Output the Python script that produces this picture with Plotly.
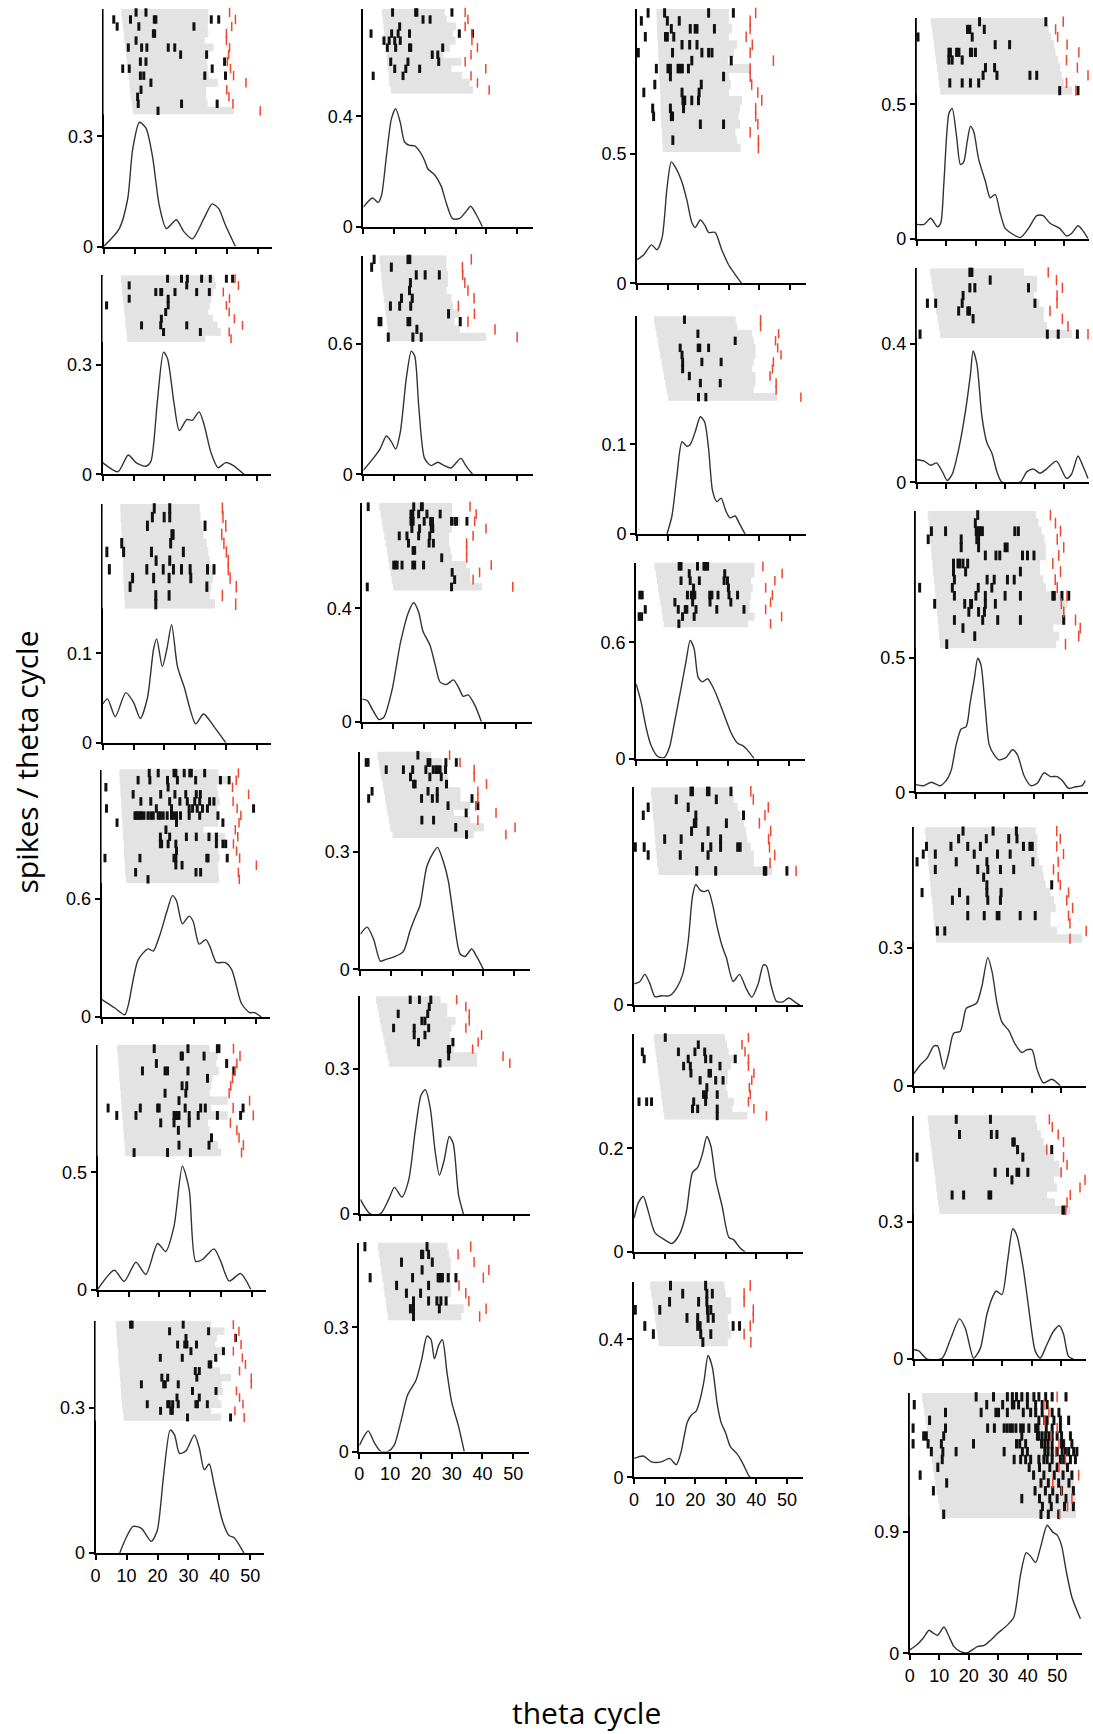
import plotly.graph_objects as go

W, H = 1093, 1734

# ---------------- column 1 ----------------
A1_cx = [0, 5.1, 7.8, 9.4, 11.6, 13.7, 15.8, 18.0, 20.3, 23.5, 26.0, 28.7, 32.4, 35.1, 37.2, 39.4, 42.6]
A1_cy = [0, 0.049, 0.13, 0.264, 0.338, 0.322, 0.246, 0.112, 0.049, 0.073, 0.04, 0.021, 0.076, 0.116, 0.103, 0.058, 0]
A1_start = [5.9, 6.2, 6.4, 6.7, 6.9, 7.2, 7.4, 7.7, 8.0, 8.2, 8.5, 8.7, 9.0, 9.3, 9.6]
A1_end = [33.7, 33.7, 33.5, 33.7, 32.5, 35.4, 33.0, 33.2, 33.5, 33.8, 36.7, 33.0, 33.0, 33.5, 42.0]
A1_red = [40.7, 42.6, 41.4, 39.7, 39.7, 40.7, 40.4, 40.0, 41.0, 42.0, 46.0, 39.8, 40.5, 41.8, 50.6]
A1_spikes = [[10.5, 13.7], [3.3, 8.7, 16.4, 16.9, 34.8, 37.2], [4.4, 11.4, 29.2], [16.1, 16.5], [10.5],
             [8.0, 12.3, 14.0, 20.9, 23.0], [24.9, 33.3], [11.9, 13.7, 39.1], [6.2, 8.3, 35.1],
             [11.9, 13.0, 32.7, 39.4], [15.3], [12.1], [11.0], [11.2, 25.2, 36.7], [17.6]]

A2_cx = [0, 5, 8.3, 10.8, 14, 15.6, 17.7, 19.7, 21, 23, 24.8, 27.2, 29, 31.2, 32.8, 35, 37.3, 39.8, 42, 45.7]
A2_cy = [0.032, 0.007, 0.053, 0.032, 0.022, 0.035, 0.2, 0.335, 0.317, 0.2, 0.12, 0.15, 0.148, 0.171, 0.136, 0.06, 0.018, 0.032, 0.025, 0]
A2_start = [6.1, 6.3, 6.5, 6.8, 7.0, 7.2, 7.4, 7.6, 7.9, 8.1]
A2_end = [36.0, 36.5, 35.6, 35.0, 34.5, 34.0, 35.5, 37.0, 38.0, 33.0]
A2_red = [42.8, 43.9, 39.0, 41.0, 40.0, 40.9, 42.6, 45.2, 40.9, 41.5]
A2_spikes = [[21.0, 25.5, 27.4, 32.0, 34.8, 40.0, 42.0], [8.6, 27.2], [17.2, 18.8, 19.1, 23.4, 30.4, 34.5],
             [8.6, 21.2], [1.3, 21.2], [20.4], [19.0], [12.6, 18.8, 27.2], [19.7, 31.6], []]

A3_cx = [0, 1.6, 4.1, 7.5, 10, 12.2, 14.5, 16.5, 17.5, 19.3, 20.8, 22.3, 24.2, 26.3, 30.1, 32.6, 36, 39.8]
A3_cy = [0.043, 0.049, 0.029, 0.056, 0.045, 0.027, 0.05, 0.105, 0.116, 0.085, 0.105, 0.132, 0.085, 0.063, 0.021, 0.032, 0.018, 0]
A3_start = [5.9, 6.0, 6.2, 6.3, 6.4, 6.5, 6.7, 6.8, 6.9, 7.0, 7.2, 7.3]
A3_end = [31.2, 31.5, 32.0, 32.5, 33.5, 34.0, 34.5, 35.0, 35.5, 35.0, 34.5, 36.2]
A3_red = [38.7, 38.9, 39.8, 38.5, 39.2, 40.0, 40.6, 40.6, 41.2, 43.2, 38.7, 43.0]
A3_spikes = [[16.7, 21.7], [16.1, 19.9, 21.7], [14.5, 33.1], [22.4, 22.8], [6.2, 22.0], [1.4, 6.8, 15.8, 26.1],
             [17.3, 21.7], [2.2, 14.3, 19.6, 22.9, 25.5, 28.3, 33.9, 36.0], [9.7, 16.5, 21.5, 28.5],
             [8.9, 33.7], [17.2, 21.5], [17.2]]

A4_cx = [0, 4.3, 7.5, 8.6, 11.8, 15, 16.7, 18.8, 21, 22.9, 24.2, 26.1, 28.3, 29.6, 31.5, 33.7, 35, 37.1, 39.8, 42, 45.2, 47.8, 49.5, 51.6]
A4_cy = [0.09, 0.046, 0.012, 0.058, 0.29, 0.346, 0.335, 0.415, 0.53, 0.616, 0.59, 0.473, 0.512, 0.485, 0.37, 0.393, 0.358, 0.277, 0.277, 0.242, 0.069, 0.023, 0.023, 0]
A4_start = [5.9, 6.0, 6.2, 6.3, 6.5, 6.6, 6.7, 6.9, 7.0, 7.1, 7.3, 7.4, 7.5, 7.7, 7.8, 8.0]
A4_end = [37.6, 40.3, 37.2, 37.6, 38.0, 37.2, 37.0, 37.6, 32.8, 39.8, 38.0, 37.6, 38.0, 37.5, 37.6, 37.8]
A4_red = [44.2, 43.5, 42.3, 47.5, 42.5, 43.8, 45.0, 44.4, 43.2, 44.0, 42.6, 43.6, 44.6, 50.0, 44.2, 44.5]
A4_spikes = [[15.4, 18.3, 23.4, 24.0, 26.7, 28.5, 29.0, 33.3], [11.8, 15.6, 21.3, 24.5, 30.4, 38.4, 41.2],
             [1.4, 21.5], [10.2, 19.1, 23.7, 27.2, 30.6, 31.9], [12.7, 15.9, 22.0, 25.3, 27.7, 30.1, 31.7, 34.9, 36.3],
             [1.6, 17.7, 22.6, 28.3, 29.4, 30.9, 32.6, 34.2, 49.1],
             [10.8, 11.3, 11.8, 12.4, 12.9, 13.7, 15.0, 15.9, 16.7, 18.3, 19.0, 19.9, 21.2, 22.6, 23.3, 24.2, 25.5, 28.3, 31.7, 37.6],
             [5.0, 24.2, 39.2], [20.8], [19.0, 22.0, 27.4, 30.6, 34.7, 37.1], [19.0, 19.4, 21.5, 24.0, 37.1, 39.2, 40.1],
             [24.2], [1.1, 12.4, 23.4, 24.0, 34.0, 34.4, 40.6], [24.0, 26.0], [11.0, 30.5, 32.0], [15.0]]

A5_cx = [0, 5.4, 8.6, 12.4, 15.6, 19.4, 22, 24.7, 27.4, 29.6, 31.7, 33.9, 37.6, 39.8, 42.5, 46.2, 49.5]
A5_cy = [0, 0.082, 0.035, 0.116, 0.064, 0.196, 0.162, 0.27, 0.526, 0.426, 0.12, 0.128, 0.173, 0.12, 0.036, 0.068, 0]
A5_start = [6.5, 6.7, 6.9, 7.0, 7.2, 7.4, 7.6, 7.8, 7.9, 8.1, 8.3, 8.5, 8.7, 8.9, 9.1]
A5_end = [36.0, 38.7, 38.2, 39.0, 37.0, 36.5, 36.0, 41.9, 36.5, 41.9, 35.5, 36.0, 36.5, 38.7, 39.8]
A5_red = [43.9, 46.0, 45.0, 44.4, 43.6, 43.0, 42.5, 49.1, 43.8, 50.3, 42.9, 45.0, 45.7, 47.1, 46.5]
A5_spikes = [[18.3, 29.2, 38.7, 39.2], [27.0, 27.4, 34.4], [19.0, 41.7], [14.5, 21.8, 22.6, 29.2, 44.0], [35.5],
             [27.3, 28.8], [21.8, 28.5], [26.3], [3.4, 13.8, 19.4, 19.9, 28.3, 33.3, 34.8, 47.0],
             [6.2, 12.4, 24.7, 25.3, 25.8, 26.3, 29.6, 32.5, 38.7, 46.2], [20.4, 24.7, 29.6], [26.1], [36.8],
             [26.3, 36.0], [11.8, 22.6, 30.0]]

A6_cx = [7.8, 9.9, 12.1, 14.8, 18, 19.9, 22, 24.1, 25.5, 27.1, 29.2, 31.9, 33.5, 35.1, 36.7, 38.3, 41, 43.1, 44.7, 47.9]
A6_cy = [0, 0.032, 0.055, 0.051, 0.024, 0.046, 0.162, 0.254, 0.244, 0.206, 0.211, 0.244, 0.217, 0.172, 0.184, 0.141, 0.066, 0.036, 0.032, 0]
A6_start = [6.7, 6.9, 7.0, 7.2, 7.4, 7.5, 7.7, 7.9, 8.0, 8.2, 8.4, 8.5, 8.7, 8.9, 9.2]
A6_end = [37.2, 41.5, 39.0, 38.5, 41.5, 39.5, 36.8, 40.0, 43.6, 40.5, 41.0, 39.5, 40.5, 37.2, 40.4]
A6_red = [44.5, 46.3, 45.0, 47.0, 44.5, 47.4, 48.4, 46.5, 50.3, 50.3, 45.5, 46.5, 47.6, 45.0, 48.0]
A6_spikes = [[11.3, 11.8, 28.3], [23.9, 36.5], [29.2, 45.2], [26.5, 28.8, 29.5, 32.6], [30.8, 41.3],
             [20.9, 28.0, 38.8], [36.7, 37.2], [32.2, 33.5], [21.4, 23.3, 32.7], [14.8, 22.0, 22.5, 26.7],
             [31.3, 38.9], [26.3, 33.5], [16.7, 23.3, 23.8, 24.9, 26.7, 32.4, 32.9, 36.1], [21.0, 24.3, 24.8],
             [29.7, 43.6]]

# ---------------- column 2 ----------------
B1_cx = [0, 3, 4.8, 5.9, 7.5, 9.1, 10.5, 12, 13.4, 15, 16.7, 18.3, 19.9, 21, 23.1, 25.3, 26.9, 29, 31.2, 33.3, 34.9, 36.6, 38.7]
B1_cy = [0.071, 0.104, 0.088, 0.113, 0.256, 0.39, 0.428, 0.378, 0.307, 0.295, 0.293, 0.273, 0.24, 0.209, 0.189, 0.147, 0.088, 0.029, 0.029, 0.054, 0.074, 0.046, 0]
B1_start = [6.2, 6.4, 6.7, 6.9, 7.2, 7.4, 7.7, 7.9, 8.1, 8.4, 8.6, 9.1]
B1_end = [26.3, 27.0, 30.0, 29.0, 29.8, 28.0, 25.8, 31.7, 28.5, 32.0, 34.4, 35.5]
B1_red = [33.1, 34.0, 33.1, 35.3, 35.3, 37.1, 35.0, 33.1, 39.8, 35.0, 37.1, 40.9]
B1_spikes = [[9.5, 17.0, 17.4, 28.8], [19.4, 21.7], [11.8], [2.5, 9.2, 11.3, 15.0, 31.2, 35.5], [6.7, 8.4, 10.2, 12.0],
             [7.8, 10.5, 15.0, 15.4, 25.8], [22.4, 24.2], [8.9, 14.5, 24.5], [10.2, 13.8, 18.3], [3.2, 12.9], [], []]

B2_cx = [0, 3.2, 5.4, 7.5, 9.1, 10.5, 12, 14, 15.6, 16.7, 18, 19.9, 22, 24.2, 26.3, 28.5, 31.7, 33.3, 35.5]
B2_cy = [0.018, 0.073, 0.116, 0.176, 0.15, 0.116, 0.193, 0.446, 0.567, 0.545, 0.314, 0.073, 0.04, 0.055, 0.04, 0.029, 0.073, 0.04, 0]
B2_start = [5.4, 5.7, 6.0, 6.2, 6.5, 6.8, 7.1, 7.4, 7.7, 8.0, 8.4]
B2_end = [26.9, 26.9, 27.4, 27.4, 26.9, 28.5, 29.0, 31.2, 29.5, 31.2, 39.8]
B2_red = [35.1, 32.2, 32.3, 33.0, 34.0, 36.0, 30.9, 36.1, 34.0, 42.8, 50.0]
B2_spikes = [[3.5, 14.5, 15.1], [2.7, 9.1], [17.2, 20.1, 24.7], [15.3], [15.0], [12.4, 15.9], [8.8, 11.8, 15.4],
             [27.7], [5.1, 5.7, 14.5, 15.1, 31.5], [17.4], [8.1, 16.1, 18.8]]

B3_cx = [0, 1.6, 3.2, 5.4, 7, 9.7, 12.4, 15, 16.7, 18.3, 19.7, 22, 23.7, 25.3, 27.4, 29.6, 31.2, 32.8, 34.4, 36.6, 38.7]
B3_cy = [0.08, 0.075, 0.045, 0.008, 0.016, 0.115, 0.28, 0.387, 0.42, 0.387, 0.32, 0.27, 0.2, 0.14, 0.132, 0.148, 0.123, 0.09, 0.095, 0.058, 0]
B3_start = [5.7, 6.1, 6.5, 6.9, 7.3, 7.7, 8.1, 8.5, 8.9, 9.3, 9.7, 10.2]
B3_end = [29.0, 29.0, 31.7, 29.0, 28.0, 28.0, 28.5, 29.0, 33.5, 34.9, 34.9, 38.7]
B3_red = [35.0, 37.0, 36.5, 40.2, 36.0, 33.9, 33.9, 33.9, 41.9, 38.1, 36.0, 48.9]
B3_spikes = [[1.9, 16.7, 19.2, 19.5], [15.8, 16.4, 18.3, 21.0, 25.3], [15.8, 16.5, 20.1, 22.2, 22.8, 29.0, 30.1, 30.6, 34.0],
             [16.1, 18.6, 22.4, 22.9], [12.0, 14.5, 18.3, 21.9], [15.0, 21.7, 23.1], [16.5, 17.0], [25.8],
             [10.2, 10.8, 11.3, 12.9, 16.4, 17.0, 19.9], [29.2], [30.0], [1.6, 29.0]]

B4_cx = [0, 2.2, 4.3, 6.5, 8.1, 11.3, 14, 16.2, 17.8, 19.4, 21.6, 23.8, 25.1, 27, 28.6, 30.2, 32.4, 34, 36.2, 37.8, 40]
B4_cy = [0.09, 0.108, 0.077, 0.021, 0.025, 0.033, 0.046, 0.1, 0.133, 0.164, 0.263, 0.3, 0.312, 0.275, 0.226, 0.139, 0.04, 0.033, 0.052, 0.033, 0]
B4_start = [5.7, 6.1, 6.5, 6.9, 7.4, 7.8, 8.2, 8.6, 9.0, 9.4, 9.8, 10.6]
B4_end = [22.9, 26.5, 27.5, 28.4, 28.4, 32.4, 32.4, 35.6, 30.2, 35.6, 40.0, 36.7]
B4_red = [29.0, 32.4, 37.0, 37.0, 41.0, 38.2, 38.2, 37.5, 44.1, 38.2, 50.3, 47.3]
B4_spikes = [[18.7], [1.9, 2.5, 22.0, 22.6, 27.8, 31.2], [8.4, 14.0, 17.0, 21.3, 23.7, 24.6, 25.2, 25.9, 27.7],
             [16.3, 22.6, 26.3], [17.3, 17.8, 28.0], [3.8, 22.0, 25.0], [2.7, 19.9, 23.4, 25.0, 36.3],
             [28.5, 38.2], [34.4], [20.0, 23.8], [31.0], [34.5]]

B5_cx = [0, 3.2, 6.5, 9.2, 11.1, 13.5, 15.7, 17.8, 19.7, 21.1, 22.7, 24.3, 25.7, 27.2, 28.9, 30.2, 31.9, 33.5]
B5_cy = [0.03, 0, 0, 0.03, 0.055, 0.035, 0.07, 0.17, 0.245, 0.257, 0.22, 0.13, 0.08, 0.11, 0.16, 0.145, 0.04, 0]
B5_start = [5.2, 5.7, 6.1, 6.6, 7.0, 7.5, 8.0, 8.5, 9.0, 9.5]
B5_end = [25.9, 28.1, 28.1, 30.8, 29.5, 29.0, 30.2, 30.2, 37.8, 37.8]
B5_red = [31.3, 34.3, 35.4, 35.4, 34.3, 39.4, 38.3, 36.5, 46.4, 48.6]
B5_spikes = [[16.2, 19.2, 22.9], [22.4], [12.3, 21.9], [20.0, 21.0], [10.8, 17.5, 22.2], [17.5, 21.0],
             [18.9, 30.1], [28.6, 29.0], [28.7], [25.9]]

B6_cx = [0, 1.6, 2.9, 4.9, 7, 9.2, 11.3, 13.5, 15.7, 18.4, 20.3, 22, 23.3, 24.4, 25.8, 27, 28.5, 30, 32.2, 34.1]
B6_cy = [0.015, 0.038, 0.05, 0.021, 0, 0, 0.015, 0.073, 0.137, 0.172, 0.224, 0.279, 0.27, 0.224, 0.257, 0.27, 0.19, 0.12, 0.062, 0]
B6_start = [6.2, 6.5, 6.9, 7.3, 7.6, 8.0, 8.3, 8.7, 9.0, 9.4]
B6_end = [28.5, 29.0, 29.5, 29.6, 29.0, 29.5, 29.6, 28.5, 33.8, 33.0]
B6_red = [36.2, 32.1, 37.3, 42.1, 40.3, 32.4, 34.6, 35.6, 41.2, 39.1]
B6_spikes = [[1.8, 22.0], [20.2, 20.6, 22.5], [13.7, 23.7], [20.4], [3.5, 17.3, 25.6, 26.0, 26.5, 27.0, 28.9, 31.4],
             [12.1, 22.5], [15.3, 19.9], [17.6, 22.5, 25.2, 26.5, 28.2], [16.6, 17.6, 26.0], [17.6]]

# ---------------- column 3 ----------------
C1_cx = [0, 2.2, 4.7, 6.5, 8.2, 9.8, 11.2, 12.7, 14.5, 16.3, 17.9, 19, 20.7, 22.1, 23.4, 25.5, 27.7, 29.9, 32.1, 34.2]
C1_cy = [0.092, 0.111, 0.149, 0.13, 0.178, 0.37, 0.47, 0.446, 0.398, 0.322, 0.236, 0.216, 0.245, 0.226, 0.197, 0.197, 0.13, 0.073, 0.034, 0]
C1_start = [6.5, 6.6, 6.7, 6.8, 7.0, 7.1, 7.2, 7.3, 7.4, 7.6, 7.7, 7.8, 7.9, 8.0, 8.1, 8.3, 8.4, 8.5]
C1_end = [29.9, 29.9, 31.0, 29.9, 32.6, 31.5, 29.5, 37.0, 30.0, 30.5, 29.9, 34.2, 33.5, 33.0, 33.5, 32.0, 32.5, 33.7]
C1_red = [38.8, 37.0, 37.0, 35.7, 37.7, 37.0, 44.6, 37.0, 37.0, 37.5, 39.5, 40.8, 38.8, 38.8, 39.5, 37.0, 39.7, 39.7]
C1_spikes = [[3.6, 9.0, 23.4, 31.5], [1.4, 9.9, 13.8], [11.2, 17.4, 19.0, 19.6, 25.3], [2.7, 9.3, 9.9, 12.0],
             [14.7, 17.2, 19.6], [0.4, 11.6, 21.2, 23.4, 24.5], [17.9, 30.8], [6.3, 10.1, 10.9, 13.4, 14.1, 14.8, 16.8],
             [10.9, 28.3], [5.8, 21.0], [2.2, 14.7, 20.3], [15.0, 15.6, 17.9, 20.1], [5.1, 10.9, 15.2],
             [5.4, 11.2, 11.6], [20.7, 28.3], [], [11.7], []]

C2_cx = [9.8, 11.4, 13, 14.7, 16.3, 17.4, 19, 20.7, 22.1, 23.4, 24.7, 26.1, 27.5, 29, 30.4, 32.1, 33.4, 35.3]
C2_cy = [0, 0.02, 0.064, 0.103, 0.098, 0.1, 0.114, 0.131, 0.125, 0.095, 0.048, 0.036, 0.04, 0.026, 0.018, 0.02, 0.012, 0]
C2_start = [5.7, 6.1, 6.5, 6.9, 7.3, 7.7, 8.2, 8.6, 9.0, 9.4, 9.8, 10.3]
C2_end = [32.1, 32.6, 37.5, 38.0, 38.6, 38.6, 38.0, 37.5, 38.6, 38.6, 38.0, 45.7]
C2_red = [40.4, 40.4, 46.3, 45.3, 46.0, 47.1, 44.6, 44.3, 43.5, 45.5, 45.5, 53.6]
C2_spikes = [[15.5], [], [19.9], [32.1], [14.1, 20.0, 20.5, 23.4], [14.7], [14.9, 21.2, 27.5], [14.9], [17.1],
             [20.7, 27.2], [], [20.1, 22.5]]

C3_cx = [0, 1.6, 3.3, 4.9, 7.1, 9.2, 10.9, 12.5, 14.7, 16.3, 17.7, 19, 20.3, 21.7, 23.4, 25, 26.6, 28.8, 31, 33.2, 34.8, 36.4, 38.6]
C3_cy = [0.385, 0.294, 0.158, 0.068, 0.011, 0.005, 0.057, 0.181, 0.362, 0.498, 0.61, 0.566, 0.419, 0.396, 0.412, 0.373, 0.317, 0.226, 0.136, 0.079, 0.068, 0.045, 0]
C3_start = [6.2, 6.6, 7.0, 7.3, 7.7, 8.1, 8.5, 8.8, 9.2]
C3_end = [38.6, 38.6, 37.5, 38.0, 37.5, 37.0, 37.0, 38.6, 36.4]
C3_red = [41.5, 47.8, 45.4, 42.4, 44.6, 44.0, 42.4, 47.6, 44.0]
C3_spikes = [[14.1, 14.7, 20.1, 22.2, 22.8, 23.4], [17.4, 29.0], [14.7, 17.7, 20.7, 28.8, 29.9], [18.8, 30.2],
             [1.2, 2.0, 16.8, 18.1, 18.6, 19.2, 24.1, 24.8, 26.8, 30.4, 33.2], [12.7, 18.5, 24.2, 31.0],
             [3.0, 13.8, 16.1, 16.6, 19.6, 26.4, 35.3], [1.0, 1.8, 15.2, 19.0], [14.0]]

C4_cx = [0, 1.9, 3.5, 5.2, 6.8, 8.9, 11.6, 13.8, 15.9, 17.7, 19.1, 20.2, 21.6, 23.1, 24.2, 25.6, 27.2, 28.8, 30.2, 32.4, 34.5, 36.7, 38.5, 40.6, 42.3, 43.3, 44.9, 46.6, 48.7, 50.6, 53, 54.3]
C4_cy = [0.09, 0.1, 0.13, 0.09, 0.036, 0.04, 0.04, 0.07, 0.13, 0.27, 0.46, 0.51, 0.486, 0.48, 0.486, 0.43, 0.33, 0.25, 0.2, 0.1, 0.13, 0.07, 0.034, 0.09, 0.17, 0.166, 0.08, 0.016, 0.014, 0.03, 0.01, 0]
C4_start = [5.7, 5.9, 6.1, 6.4, 6.6, 6.8, 7.0, 7.2, 7.5, 7.7, 8.1]
C4_end = [32.0, 32.5, 33.7, 34.7, 35.8, 36.5, 36.9, 38.0, 39.0, 39.0, 45.0]
C4_red = [38.2, 39.0, 43.9, 42.8, 41.0, 44.7, 44.0, 44.3, 46.0, 44.5, 53.0]
C4_spikes = [[18.6, 19.1, 24.0, 24.5, 31.7], [13.8, 26.9], [4.6, 17.7], [3.0, 20.2, 35.8], [19.7, 20.2, 30.2],
             [18.8, 24.2], [10.0, 15.4, 28.3], [0.4, 3.3, 22.4, 25.1, 28.3, 33.9, 34.7], [4.6, 15.1, 24.2], [],
             [20.5, 26.7, 42.6, 43.1, 50.0]]

C5_cx = [0, 1.4, 3, 4.6, 6.8, 10, 12.4, 14.8, 17, 19.1, 20.8, 22.4, 23.8, 25.1, 26.7, 28.8, 31, 32.6, 34.7, 36.3]
C5_cy = [0.065, 0.095, 0.107, 0.079, 0.037, 0.023, 0.016, 0.033, 0.074, 0.153, 0.163, 0.19, 0.223, 0.205, 0.14, 0.088, 0.028, 0.023, 0.007, 0]
C5_start = [6.6, 6.9, 7.2, 7.5, 7.8, 8.1, 8.4, 8.7, 9.0, 9.3, 9.6, 10.0]
C5_end = [29.6, 30.2, 30.8, 33.1, 31.5, 30.5, 30.5, 30.0, 30.5, 32.6, 32.0, 36.9]
C5_red = [37.4, 35.3, 36.3, 37.4, 37.4, 39.2, 38.5, 37.7, 38.0, 37.4, 39.2, 43.3]
C5_spikes = [[10.2], [21.0], [2.7, 14.5, 19.9, 23.1], [3.3, 17.7, 23.4, 25.1, 33.1], [16.2, 18.4, 28.1],
             [18.6, 24.5, 25.0], [21.6, 26.7, 29.1], [23.8], [22.7, 23.6, 27.2], [1.6, 4.1, 5.7, 19.5, 23.4],
             [19.1, 20.8, 27.2], [27.2]]

C6_cx = [0, 3, 5.7, 8.9, 11.6, 13.8, 15.4, 17.4, 18.9, 20.3, 21.6, 22.9, 24.2, 25.6, 27.2, 28.5, 29.9, 31.5, 33.7, 35.3, 37.4, 38]
C6_cy = [0.055, 0.062, 0.045, 0.045, 0.055, 0.037, 0.075, 0.16, 0.182, 0.192, 0.226, 0.281, 0.353, 0.319, 0.212, 0.158, 0.13, 0.089, 0.068, 0.045, 0.007, 0]
C6_start = [5.4, 5.8, 6.2, 6.6, 7.0, 7.4, 7.8, 8.1]
C6_end = [29.4, 29.8, 31.6, 31.6, 30.5, 31.0, 31.6, 30.5]
C6_red = [38.0, 36.0, 36.0, 39.0, 39.0, 38.0, 36.0, 38.2]
C6_spikes = [[11.9, 23.4], [15.9, 23.8, 25.6], [11.6, 21.1, 23.8], [0.4, 8.4, 24.0, 25.1], [17.3, 20.8, 24.2, 25.9],
             [3.5, 20.8, 21.6, 32.4, 34.5], [6.3, 21.8, 25.1], [22.5]]

# ---------------- column 4 ----------------
D1_cx = [0, 2.5, 4.7, 7, 8.1, 9.2, 10.9, 12, 13.5, 14.8, 15.9, 17.1, 18.2, 19.3, 21, 23.3, 24.9, 26.6, 28.3, 30, 32.2, 35.1, 37.9, 40.7, 42.9, 45.2, 48.5, 50.8, 52.5, 54.7, 56.4, 58.1]
D1_cy = [0.053, 0.053, 0.076, 0.044, 0.057, 0.209, 0.466, 0.485, 0.38, 0.276, 0.285, 0.361, 0.418, 0.399, 0.295, 0.213, 0.152, 0.165, 0.095, 0.038, 0.019, 0.004, 0.038, 0.086, 0.086, 0.057, 0.038, 0.01, 0.019, 0.048, 0.029, 0]
D1_start = [4.9, 5.3, 5.6, 6.0, 6.3, 6.7, 7.0, 7.4, 7.7, 8.1]
D1_end = [42.9, 44.6, 45.5, 46.5, 46.9, 47.8, 48.5, 49.0, 49.7, 52.5]
D1_red = [49.7, 47.1, 47.8, 51.0, 55.0, 50.8, 54.5, 58.1, 50.8, 54.0]
D1_spikes = [[21.3, 43.8], [17.2, 18.0, 22.9], [0.4, 18.8], [26.6, 31.5], [10.9, 11.4, 13.5, 14.3, 18.2, 18.6, 19.9],
             [10.9, 12.0, 15.4], [23.3, 26.4], [22.5, 27.2, 38.4, 40.7], [11.2, 15.4, 18.2, 21.0], [48.5, 54.7]]

D2_cx = [0, 2.5, 4.7, 6.7, 8.7, 10.3, 12, 14.3, 16.5, 18.2, 19.1, 20.4, 22.1, 23.8, 25.5, 27.2, 28.9, 35.1, 37.3, 39.6, 41.8, 44, 47.4, 50.8, 52.5, 54.7, 56.4, 58.1]
D2_cy = [0.065, 0.061, 0.049, 0.056, 0.03, 0.005, 0.023, 0.099, 0.205, 0.312, 0.38, 0.342, 0.19, 0.114, 0.084, 0.03, 0, 0, 0.03, 0.038, 0.026, 0.038, 0.061, 0.011, 0.023, 0.076, 0.046, 0.011]
D2_start = [4.7, 5.1, 5.5, 5.9, 6.3, 6.7, 7.2, 7.6, 8.1]
D2_end = [36.2, 40.7, 40.7, 39.6, 41.5, 42.9, 42.9, 44.0, 52.5]
D2_red = [44.6, 47.4, 49.4, 47.6, 47.6, 45.2, 49.4, 51.3, 58.1]
D2_spikes = [[18.0, 18.7], [24.9], [18.0, 19.7, 37.9], [15.7], [3.6, 6.4, 15.4, 40.1], [14.2, 17.3, 17.9], [19.1], [],
             [1.1, 44.3, 48.0, 54.5]]

D3_cx = [0, 2.5, 5.3, 8.1, 10.3, 12, 13.7, 15.4, 17.1, 18.4, 19.9, 21, 22.1, 23.6, 24.9, 26.6, 28.3, 30.6, 32.8, 34.5, 36.7, 39, 41.2, 43.5, 45.7, 48, 49.7, 51.9, 54.2, 56.4, 57.5]
D3_cy = [0.029, 0.025, 0.038, 0.025, 0.044, 0.082, 0.178, 0.236, 0.245, 0.331, 0.427, 0.5, 0.475, 0.312, 0.178, 0.14, 0.121, 0.13, 0.159, 0.14, 0.063, 0.025, 0.034, 0.073, 0.059, 0.059, 0.044, 0.015, 0.021, 0.025, 0.044]
D3_start = [4.2, 4.5, 4.7, 5.0, 5.3, 5.5, 5.8, 6.0, 6.3, 6.6, 6.8, 7.1, 7.3, 7.6, 7.9, 8.1, 8.4]
D3_end = [40.7, 41.5, 42.5, 43.5, 44.0, 44.0, 42.0, 42.0, 43.0, 44.0, 49.7, 51.3, 50.5, 49.7, 46.5, 48.5, 47.4]
D3_red = [45.7, 47.4, 49.1, 48.0, 50.2, 48.5, 46.5, 49.1, 47.3, 48.0, 51.3, 49.4, 50.2, 54.2, 55.8, 55.3, 50.8]
D3_spikes = [[21.0], [20.2], [5.3, 10.1, 20.5, 21.0, 21.6, 22.1, 22.6, 33.6, 34.8], [4.2, 15.4, 20.7, 21.3],
             [15.4, 21.3, 30.3, 31.0], [23.6, 27.2, 28.5, 36.2, 37.9, 40.1], [12.8, 14.3, 14.9, 16.0, 17.6],
             [12.8, 16.9, 35.5], [13.1, 24.2, 26.6, 31.1, 33.4], [1.3, 12.4, 21.2, 25.8],
             [13.1, 20.4, 23.6, 30.3, 35.5, 46.5, 47.0, 49.6, 51.9], [6.4, 16.6, 18.6, 18.9, 23.6, 27.0],
             [18.0, 21.3, 23.3], [13.1, 22.7, 27.8, 35.5, 50.2], [16.0], [20.0], [10.5]]

D4_cx = [0, 2.3, 4.5, 6.8, 8.1, 10.2, 11.9, 13.5, 15.8, 17.8, 19.8, 21.4, 23.1, 25.1, 26.6, 28.2, 29.9, 32.2, 34.4, 36.7, 38.4, 40.1, 41.8, 44, 46.8, 49.7]
D4_cy = [0.026, 0.046, 0.06, 0.086, 0.086, 0.036, 0.072, 0.114, 0.118, 0.168, 0.174, 0.18, 0.216, 0.278, 0.246, 0.18, 0.138, 0.12, 0.09, 0.072, 0.078, 0.078, 0.036, 0.006, 0.014, 0]
D4_start = [4.0, 4.3, 4.5, 4.8, 5.0, 5.3, 5.5, 5.8, 6.0, 6.3, 6.6, 6.8, 7.1, 7.4, 7.7]
D4_end = [41.2, 41.8, 41.8, 41.8, 42.3, 43.5, 43.9, 44.6, 46.2, 47.4, 48.0, 46.2, 46.2, 48.5, 57.0]
D4_red = [48.5, 49.7, 48.5, 50.8, 49.0, 47.4, 49.0, 49.7, 52.5, 51.9, 53.9, 52.5, 53.0, 58.5, 53.0]
D4_spikes = [[16.7, 26.9, 34.8], [15.2, 24.6, 32.2, 35.0], [4.3, 12.6, 18.3, 22.6, 37.2, 39.4, 40.2],
             [3.2, 7.3, 20.5, 28.4, 32.7], [1.1, 14.4, 24.8, 40.4], [7.3, 21.7, 25.1, 29.4, 33.9], [23.7],
             [24.8, 46.8], [2.8, 15.5, 24.8, 29.6], [13.1, 18.3, 25.1, 29.4], [],
             [18.3, 23.9, 28.3, 28.9, 36.1, 41.2], [], [8.0, 10.5], []]

D5_cx = [0, 1.7, 4.5, 9.6, 12.4, 15.5, 17.5, 20.3, 22.6, 24.8, 27.1, 28, 29.9, 31.8, 33.6, 35, 37.2, 38.9, 41.2, 42.9, 45.1, 47.4, 49.4, 50.8, 52.5, 54.2]
D5_cy = [0.021, 0.018, 0, 0.002, 0.043, 0.088, 0.067, 0.002, 0.024, 0.098, 0.141, 0.149, 0.141, 0.214, 0.285, 0.27, 0.196, 0.116, 0.018, 0.002, 0.031, 0.061, 0.073, 0.055, 0.006, 0]
D5_start = [4.9, 5.2, 5.5, 5.8, 6.2, 6.5, 6.8, 7.2, 7.5, 7.8, 8.1, 8.5, 8.8]
D5_end = [41.2, 41.7, 42.9, 43.9, 45.1, 47.4, 49.2, 50.0, 47.4, 48.5, 45.1, 47.8, 53.0]
D5_red = [46.0, 47.0, 49.0, 50.8, 45.1, 50.8, 52.0, 50.0, 58.1, 56.4, 53.1, 52.0, 51.5]
D5_spikes = [[14.4, 26.0], [], [15.5, 26.3, 28.2], [33.6, 34.1], [35.2, 46.8], [1.1, 37.0], [],
             [27.6, 31.8, 35.0, 35.6, 38.7], [33.3], [], [13.0, 16.9, 25.5, 26.1], [], [50.6, 51.2]]

D6_cx = [0, 2.2, 4.5, 6.5, 8, 9.4, 11.6, 13, 15, 17, 19.5, 22.9, 25.2, 27.5, 29.7, 33, 35.3, 37.6, 39.5, 41, 42.7, 44.5, 46.6, 48.5, 50, 51.5, 53, 55, 57.9]
D6_cy = [0.026, 0.06, 0.112, 0.172, 0.15, 0.135, 0.196, 0.14, 0.05, 0.015, 0.005, 0.05, 0.06, 0.1, 0.147, 0.208, 0.27, 0.589, 0.748, 0.72, 0.674, 0.8, 0.951, 0.9, 0.878, 0.8, 0.62, 0.417, 0.257]
D6_start = [4.3, 4.7, 5.1, 5.5, 6.0, 6.4, 6.8, 7.2, 7.6, 8.0, 8.4, 8.8, 9.2, 9.7, 10.2, 10.7]
D6_end = [42.7, 43.0, 43.5, 44.0, 45.0, 46.0, 47.5, 49.0, 51.0, 53.0, 54.5, 55.5, 56.0, 56.2, 56.0, 56.2]
D6_red = [50.0, 45.5, 47.2, 45.8, 50.0, 48.0, 50.6, 49.5, 52.8, 50.6, 57.3, 48.5, 51.5, 55.0, 53.5, 50.8]
D6_spikes = [[22.5, 28.4, 33.1, 34.8, 36.2, 38.0, 39.9, 42.1, 43.8, 46.1, 48.3, 53.0],
             [1.5, 26.1, 31.5, 34.8, 35.3, 36.9, 39.9, 42.7, 44.9, 46.6],
             [12.1, 24.2, 29.2, 30.1, 33.1, 38.5, 41.0, 42.7, 44.9, 48.3, 50.6],
             [6.7, 43.8, 45.8, 46.6, 48.9, 51.1, 53.9],
             [1.1, 12.1, 26.4, 28.7, 32.0, 33.0, 34.0, 34.8, 36.0, 37.6, 38.5, 40.4, 42.7, 43.5, 46.3, 48.3, 51.1],
             [4.7, 5.6, 11.5, 38.0, 43.3, 43.8, 44.9, 46.1, 47.2, 48.3, 50.0, 51.5, 54.5],
             [1.1, 6.2, 10.7, 21.6, 36.2, 37.3, 39.3, 44.7, 45.8, 46.9, 48.3, 51.5, 52.2, 55.0],
             [7.3, 11.2, 15.7, 32.0, 38.2, 39.9, 45.8, 46.9, 48.3, 50.0, 51.7, 52.8, 53.9, 55.6, 56.7],
             [11.0, 35.4, 37.6, 39.3, 41.0, 43.8, 45.5, 46.6, 48.3, 51.1, 52.2, 54.5, 56.2],
             [9.5, 40.5, 44.0, 47.5, 50.0, 53.5], [3.5, 42.0, 45.5, 49.0, 52.0, 55.0],
             [12.5, 44.5, 47.0, 50.5, 54.0], [8.0, 42.5, 46.0, 48.5, 51.5, 55.5],
             [38.0, 44.0, 47.5, 50.0, 53.0], [45.0, 48.0, 52.5, 55.5], [11.5, 44.5, 47.0, 50.5]]

# y tick labels (value shown besides 0); None = only 0 labelled
TICK_VALUES = {
    'A1': 0.3, 'A2': 0.3, 'A3': 0.1, 'A4': 0.6, 'A5': 0.5, 'A6': 0.3,
    'B1': 0.4, 'B2': 0.6, 'B3': 0.4, 'B4': 0.3, 'B5': 0.3, 'B6': 0.3,
    'C1': 0.5, 'C2': 0.1, 'C3': 0.6, 'C4': None, 'C5': 0.2, 'C6': 0.4,
    'D1': 0.5, 'D2': 0.4, 'D3': 0.5, 'D4': 0.3, 'D5': 0.3, 'D6': 0.9,
}
X_TICKS = [0, 10, 20, 30, 40, 50]
X_TICK_TEXT = ['0', '10', '20', '30', '40', '50']
Y_TITLE = 'spikes / theta cycle'
X_TITLE = 'theta cycle'

# ---------------- layout geometry (pixels) ----------------
# per column: px per 10 units along x, x-axis extent (units)
COL_GEOM = {'A': (31.1, 54.5), 'B': (30.9, 55.0), 'C': (30.7, 55.3), 'D': (29.6, 58.5)}
# per panel: x of y-axis, y of zero line, y of labelled tick, y of axis top, y of raster bottom
PANEL_GEOM = {
    'A1': (99, 248, 137, 9, 115), 'A2': (98, 477, 367, 277, 344), 'A3': (98, 747, 657, 507, 612),
    'A4': (97, 1023, 904, 774, 888), 'A5': (93, 1297, 1179, 1051, 1163), 'A6': (91, 1562, 1416, 1329, 1429),
    'B1': (360, 228, 117, 9, 94), 'B2': (360, 477, 346, 257, 343), 'B3': (359, 726, 612, 506, 594),
    'B4': (357, 975, 857, 756, 843), 'B5': (357, 1221, 1075, 1002, 1073), 'B6': (356, 1460, 1335, 1250, 1328),
    'C1': (635, 285, 155, 9, 153), 'C2': (635, 537, 447, 318, 403), 'C3': (634, 763, 646, 566, 631),
    'C4': (632, 1011, None, 792, 880), 'C5': (632, 1259, 1155, 1040, 1126), 'C6': (632, 1486, 1347, 1289, 1354),
    'D1': (916, 240, 105, 18, 95), 'D2': (916, 485, 346, 270, 340), 'D3': (915, 797, 662, 514, 652),
    'D4': (913, 1092, 953, 832, 948), 'D5': (913, 1367, 1229, 1122, 1221), 'D6': (909, 1663, 1541, 1401, 1527),
}
C4_YMAX = 0.92
BOTTOM = {'A6', 'B6', 'C6', 'D6'}

DATA = {}
for nm in PANEL_GEOM:
    g = globals()
    DATA[nm] = (g[nm + '_cx'], g[nm + '_cy'], g[nm + '_start'], g[nm + '_end'], g[nm + '_red'], g[nm + '_spikes'])

GRAY = '#e3e3e3'
BLACK = '#111111'
RED = '#f0452f'
CURVE = '#333333'
TICK_FONT = dict(family='Liberation Sans, Arial, sans-serif', size=18, color='black')

fig = go.Figure()
lay = dict(width=W, height=H, margin=dict(l=0, r=0, t=0, b=0, pad=0), paper_bgcolor='white',
           plot_bgcolor='white', showlegend=False, barmode='overlay', autosize=False)

for k, nm in enumerate(PANEL_GEOM, start=1):
    cx, cy, st, en, rd, spk = DATA[nm]
    x0, zero, tpx, top, rb = PANEL_GEOM[nm]
    px10, xr = COL_GEOM[nm[0]]
    tv = TICK_VALUES[nm]
    if tpx is None:
        ymax = C4_YMAX
    else:
        ymax = tv * (zero - top) / (zero - tpx)
    xname = 'x' if k == 1 else f'x{k}'
    yc = 2 * k - 1
    yr = 2 * k
    ycname = 'y' if yc == 1 else f'y{yc}'
    yrname = f'y{yr}'
    n = len(st)
    row_px = (rb - top) / n

    # gray trial bars
    fig.add_trace(go.Bar(orientation='h', y=list(range(n)), x=[e - s for s, e in zip(st, en)], base=st,
                         width=1.0, marker=dict(color=GRAY, line=dict(width=1, color=GRAY)),
                         xaxis=xname, yaxis=yrname, hoverinfo='skip'))
    # spikes
    sx, sy = [], []
    for i, row in enumerate(spk):
        for v in row:
            sx.append(v)
            sy.append(i)
    fig.add_trace(go.Scatter(x=sx, y=sy, mode='markers',
                             marker=dict(symbol='line-ns', size=row_px * 0.85,
                                         line=dict(width=3.0, color=BLACK)),
                             xaxis=xname, yaxis=yrname, hoverinfo='skip', cliponaxis=False))
    # red end markers
    fig.add_trace(go.Scatter(x=rd, y=list(range(len(rd))), mode='markers',
                             marker=dict(symbol='line-ns', size=row_px * 0.95,
                                         line=dict(width=1.5, color=RED)),
                             xaxis=xname, yaxis=yrname, hoverinfo='skip', cliponaxis=False))
    # density curve
    fig.add_trace(go.Scatter(x=cx, y=cy, mode='lines',
                             line=dict(shape='spline', smoothing=0.7, width=1.4, color=CURVE),
                             xaxis=xname, yaxis=ycname, hoverinfo='skip'))

    x_end = x0 + xr * px10 / 10.0
    lay['xaxis' if k == 1 else f'xaxis{k}'] = dict(
        domain=[x0 / W, x_end / W], range=[0, xr], anchor=ycname,
        showline=True, linewidth=2, linecolor='black', ticks='outside', ticklen=5, tickwidth=2,
        tickcolor='black', tickvals=X_TICKS, ticktext=X_TICK_TEXT, showticklabels=(nm in BOTTOM),
        tickfont=TICK_FONT, showgrid=False, zeroline=False, fixedrange=True)
    if tv is None:
        tvals, ttext = [0], ['0']
    else:
        tvals, ttext = [0, tv], ['0', f'{tv:g}']
    lay['yaxis' if yc == 1 else f'yaxis{yc}'] = dict(
        domain=[1 - zero / H, 1 - top / H], range=[0, ymax], anchor=xname,
        showline=True, linewidth=2, linecolor='black', ticks='outside', ticklen=5, tickwidth=2,
        tickcolor='black', tickvals=tvals, ticktext=ttext, tickfont=TICK_FONT,
        showgrid=False, zeroline=False, fixedrange=True)
    lay[f'yaxis{yr}'] = dict(
        domain=[1 - rb / H, 1 - top / H], range=[n - 0.5, -0.5], anchor=xname,
        visible=False, showgrid=False, zeroline=False, fixedrange=True)

TITLE_FONT = dict(family='Open Sans, Lato, sans-serif', size=30, color='black')
lay['annotations'] = [
    dict(text=Y_TITLE, x=22 / W, y=1 - 766 / H, xref='paper', yref='paper', textangle=-90,
         showarrow=False, xanchor='center', yanchor='middle', font=TITLE_FONT),
    dict(text=X_TITLE, x=584 / W, y=1 - 1722 / H, xref='paper', yref='paper',
         showarrow=False, xanchor='center', yanchor='middle', font=TITLE_FONT),
]
fig.update_layout(**lay)
fig.write_html('out.html', config={'displayModeBar': False, 'staticPlot': True},
               post_script="document.body.style.margin='0px';document.body.style.overflow='hidden';")
